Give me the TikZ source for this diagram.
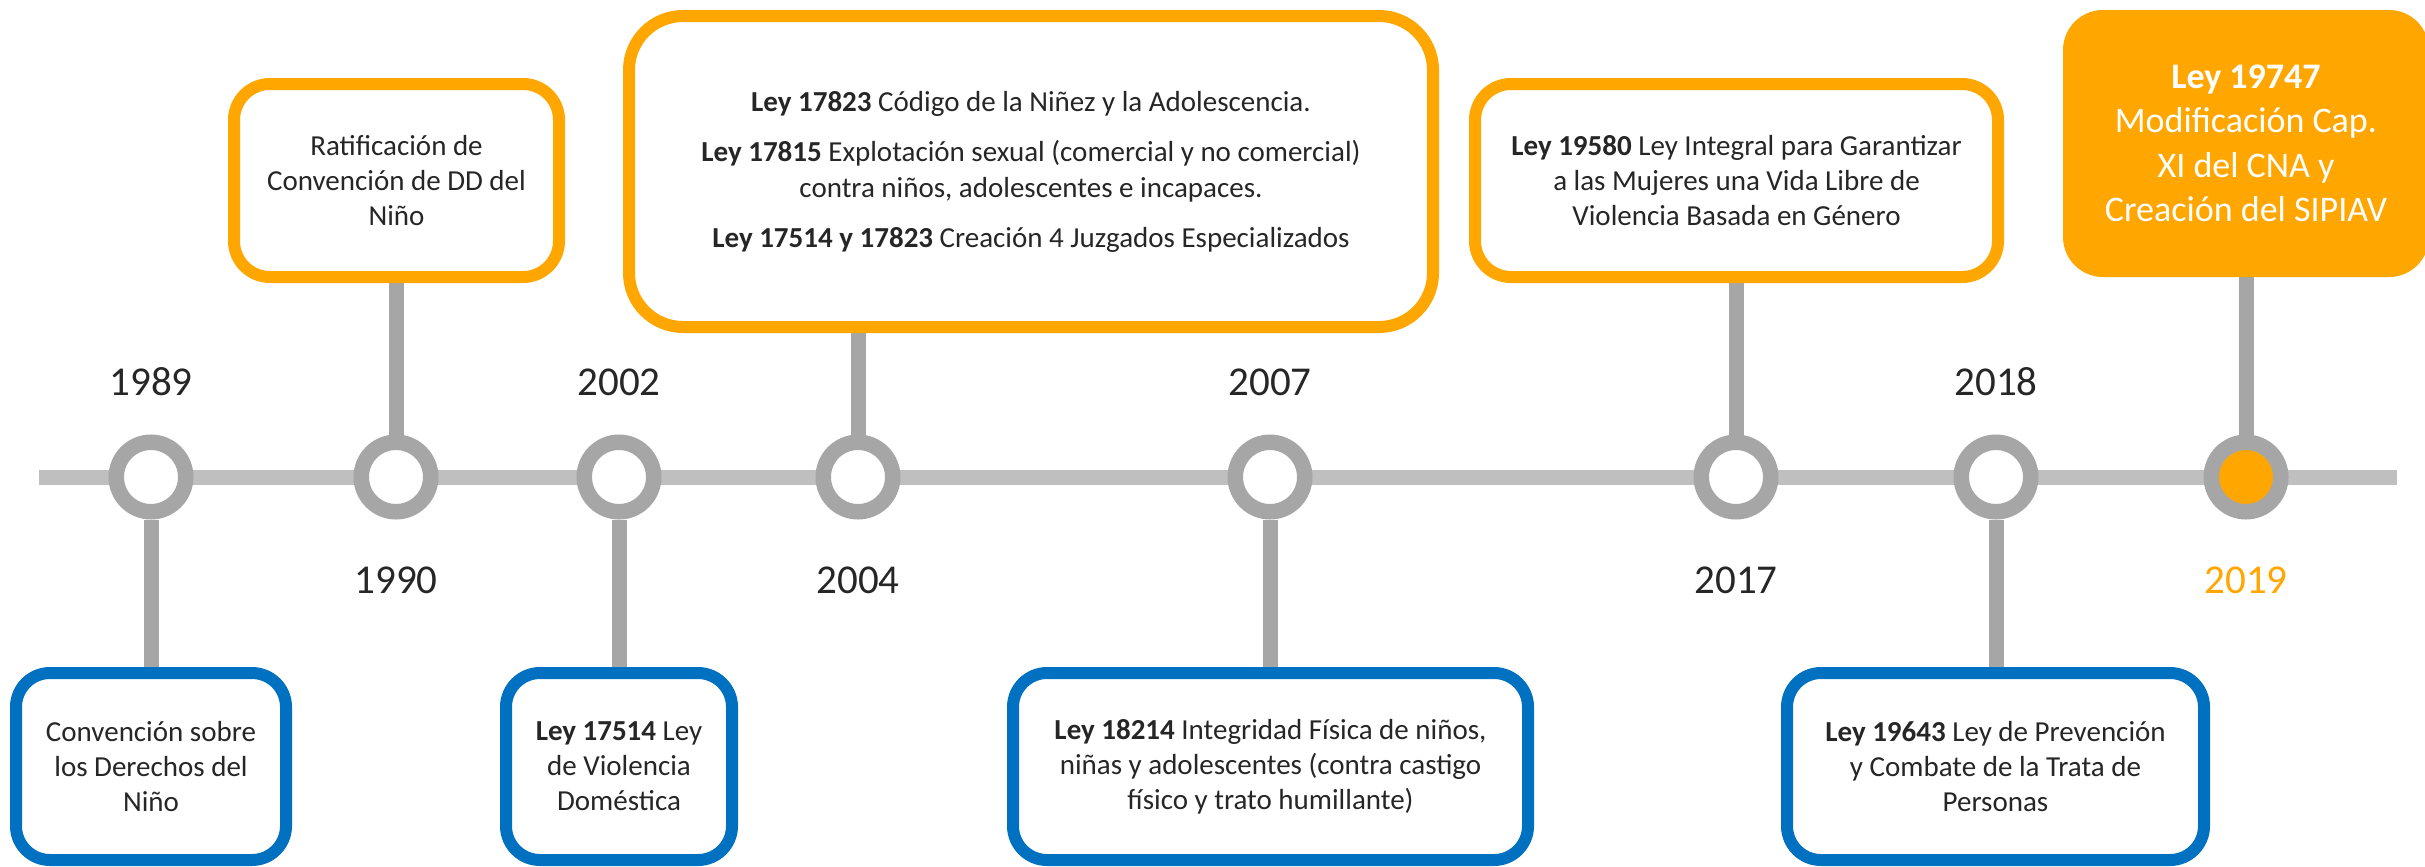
\documentclass[tikz,border=0pt]{standalone}
\usepackage{fontspec}
\setmainfont{Carlito}
\usetikzlibrary{backgrounds}
\definecolor{orng}{HTML}{FFA600}
\definecolor{blu}{HTML}{0070C0}
\definecolor{ring}{HTML}{A6A6A6}
\definecolor{tl}{HTML}{BFBFBF}
\definecolor{txt}{HTML}{262626}
\begin{document}
\begin{tikzpicture}[x=0.5pt,y=-0.5pt,
  box/.style={draw, line width=6pt, fill=white, rounded corners=17pt, inner sep=0pt, align=center, text=txt, font=\fontsize{14.5}{17.5}\selectfont},
  obox/.style={box, draw=orng},
  bbox/.style={box, draw=blu},
  ev/.style={circle, draw=ring, line width=7.75pt, fill=white, minimum size=34.75pt, inner sep=0pt},
  yr/.style={text=txt, font=\fontsize{20.5}{24}\selectfont, inner sep=0pt},
  stem/.style={draw=ring, line width=7.5pt},
  axis/.style={draw=tl, line width=7.5pt}]
\useasboundingbox (0,0) rectangle (2425,867);

% event circles
\node[ev] (c1989) at (151,477) {};
\node[ev] (c1990) at (396,477) {};
\node[ev] (c2002) at (619,477) {};
\node[ev] (c2004) at (858,477) {};
\node[ev] (c2007) at (1270,477) {};
\node[ev] (c2017) at (1736,477) {};
\node[ev] (c2018) at (1996,477) {};
\node[ev, fill=orng] (c2019) at (2246,477) {};

% year labels
\node[yr] (y1989) at (151,382) {1989};
\node[yr] (y2002) at (619,382) {2002};
\node[yr] (y2007) at (1270,382) {2007};
\node[yr] (y2018) at (1996,382) {2018};
\node[yr] (y1990) at (396,580) {1990};
\node[yr] (y2004) at (858,580) {2004};
\node[yr] (y2017) at (1736,580) {2017};
\node[yr, text=orng] (y2019) at (2246,580) {2019};

% top boxes
\node[obox, minimum width=162.5pt, minimum height=96.5pt, rounded corners=18pt] (bA) at (396.5,180.5)
  {Ratificación de\\Convención de DD del\\Niño};
\node[obox, minimum width=402pt, minimum height=155.5pt, rounded corners=27pt, font=\fontsize{14.5}{18}\selectfont] (bB) at (1031,171.5)
  {\textbf{Ley 17823} Código de la Niñez y la Adolescencia.\\[7pt]
   \textbf{Ley 17815} Explotación sexual (comercial y no comercial)\\
   contra niños, adolescentes e incapaces.\\[7pt]
   \textbf{Ley 17514 y 17823} Creación 4 Juzgados Especializados};
\node[obox, minimum width=261.5pt, minimum height=96.5pt, rounded corners=18pt] (bC) at (1736.5,180.5)
  {\textbf{Ley 19580} Ley Integral para Garantizar\\a las Mujeres una Vida Libre de\\Violencia Basada en Género};
\node[fill=orng, rounded corners=20pt, minimum width=183pt, minimum height=133.5pt, inner sep=0pt,
  text=white, align=center, font=\fontsize{18}{22.2}\selectfont] (bD) at (2246,143.5)
  {\textbf{Ley 19747}\\Modificación Cap.\\XI del CNA y\\Creación del SIPIAV};

% bottom boxes
\node[bbox, minimum width=135pt, minimum height=93.5pt] (b1) at (151,766.5)
  {Convención sobre\\los Derechos del\\Niño};
\node[bbox, minimum width=113pt, minimum height=93.5pt] (b2) at (619,766.5)
  {\textbf{Ley 17514} Ley\\de Violencia\\Doméstica};
\node[bbox, minimum width=257.5pt, minimum height=93.5pt] (b3) at (1270.5,766.5)
  {\textbf{Ley 18214} Integridad Física de niños,\\niñas y adolescentes (contra castigo\\físico y trato humillante)};
\node[bbox, minimum width=208.5pt, minimum height=93.5pt] (b4) at (1995.5,766.5)
  {\textbf{Ley 19643} Ley de Prevención\\y Combate de la Trata de\\Personas};

\begin{scope}[on background layer]
  \coordinate (tlL) at (39,477);
  \coordinate (tlR) at (2397,477);
  \draw[axis] (tlL) -- (tlR);
  \draw[stem] (c1990) -- (c1990 |- bA.south);
  \draw[stem] (c2004) -- (c2004 |- bB.south);
  \draw[stem] (c2017) -- (c2017 |- bC.south);
  \draw[stem] (c2019) -- (c2019 |- bD.south);
  \draw[stem] (c1989) -- (c1989 |- b1.north);
  \draw[stem] (c2002) -- (c2002 |- b2.north);
  \draw[stem] (c2007) -- (c2007 |- b3.north);
  \draw[stem] (c2018) -- (c2018 |- b4.north);
\end{scope}
\end{tikzpicture}
\end{document}
